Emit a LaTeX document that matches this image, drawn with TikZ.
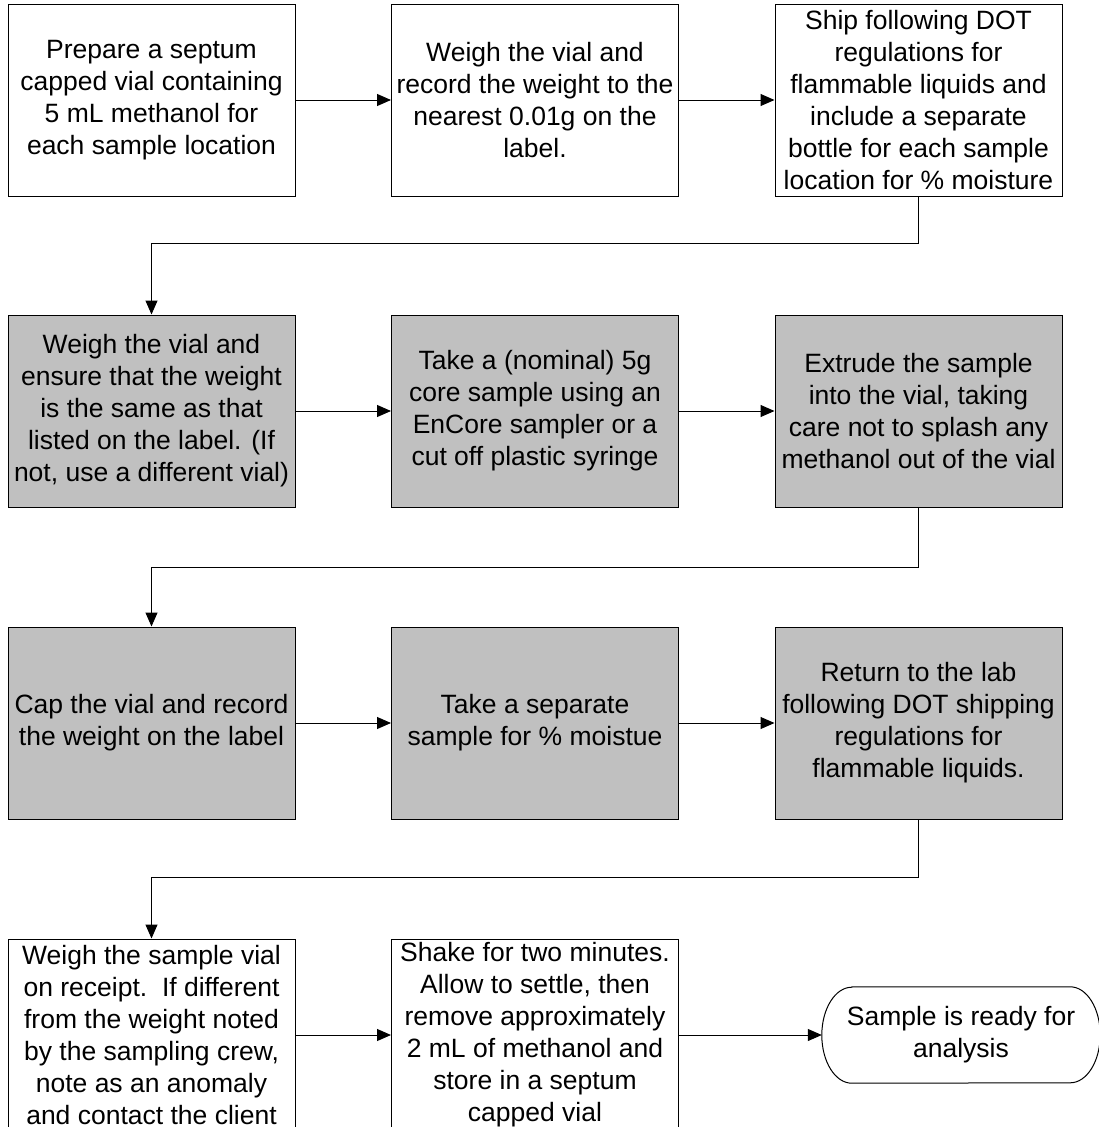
\documentclass[tikz,border=0pt]{standalone}
\usepackage{fontspec}
\setmainfont{Liberation Sans}
\usetikzlibrary{arrows.meta}
\definecolor{boxgray}{HTML}{C0C0C0}
\tikzset{
  stepbox/.style={draw=black, line width=1pt, minimum width=287pt, minimum height=192pt,
    inner sep=0pt, align=center, font={\fontsize{26.5pt}{32pt}\selectfont}},
  graybox/.style={stepbox, fill=boxgray},
  conn/.style={line width=1pt, -{Triangle[length=14pt,width=12pt]}},
}
\begin{document}
\begin{tikzpicture}[x=1pt,y=-1pt]
\useasboundingbox (0,0) rectangle (1099,1127);
\fill[white] (0,0) rectangle (1099,1127);
% row 1
\node[stepbox] (b1) at (151.5,100) {Prepare a septum\\capped vial containing\\5 mL methanol for\\each sample location};
\node[stepbox] (b2) at (535,100) {Weigh the vial and\\record the weight to the\\nearest 0.01g on the\\label.};
\node[stepbox] (b3) at (918.5,100) {Ship following DOT\\regulations for\\flammable liquids and\\include a separate\\bottle for each sample\\location for \% moisture};
% row 2
\node[graybox] (b4) at (151.5,411) {Weigh the vial and\\ensure that the weight\\is the same as that\\listed on the label. (If\\not, use a different vial)};
\node[graybox] (b5) at (535,411) {Take a (nominal) 5g\\core sample using an\\EnCore sampler or a\\cut off plastic syringe};
\node[graybox] (b6) at (918.5,411) {Extrude the sample\\into the vial, taking\\care not to splash any\\methanol out of the vial};
% row 3
\node[graybox] (b7) at (151.5,723) {Cap the vial and record\\the weight on the label};
\node[graybox] (b8) at (535,723) {Take a separate\\sample for \% moistue};
\node[graybox] (b9) at (918.5,723) {Return to the lab\\following DOT shipping\\regulations for\\flammable liquids.};
% row 4
\node[stepbox] (b10) at (151.5,1035) {Weigh the sample vial\\on receipt.\ \ If different\\from the weight noted\\by the sampling crew,\\note as an anomaly\\and contact the client};
\node[stepbox] (b11) at (535,1035) {Shake for two minutes.\\Allow to settle, then\\remove approximately\\2 mL of methanol and\\store in a septum\\capped vial};
\node[align=center, inner sep=0pt, minimum width=278pt, minimum height=96pt,
  font={\fontsize{26.5pt}{32pt}\selectfont}] (term) at (961,1035) {Sample is ready for\\analysis};
\draw[line width=1pt] ([xshift=30pt]term.north west) -- ([xshift=-30pt]term.north east)
  arc[start angle=90, end angle=-90, x radius=30pt, y radius=48pt]
  -- ([xshift=30pt]term.south west)
  arc[start angle=270, end angle=90, x radius=30pt, y radius=48pt] -- cycle;
% connectors
\draw[conn] (b1.east) -- (b2.west);
\draw[conn] (b2.east) -- (b3.west);
\draw[conn] (b3.south) -- ++(0,47) -| (b4.north);
\draw[conn] (b4.east) -- (b5.west);
\draw[conn] (b5.east) -- (b6.west);
\draw[conn] (b6.south) -- ++(0,60) -| (b7.north);
\draw[conn] (b7.east) -- (b8.west);
\draw[conn] (b8.east) -- (b9.west);
\draw[conn] (b9.south) -- ++(0,58) -| (b10.north);
\draw[conn] (b10.east) -- (b11.west);
\draw[conn] (b11.east) -- (term.west);
\end{tikzpicture}
\end{document}
